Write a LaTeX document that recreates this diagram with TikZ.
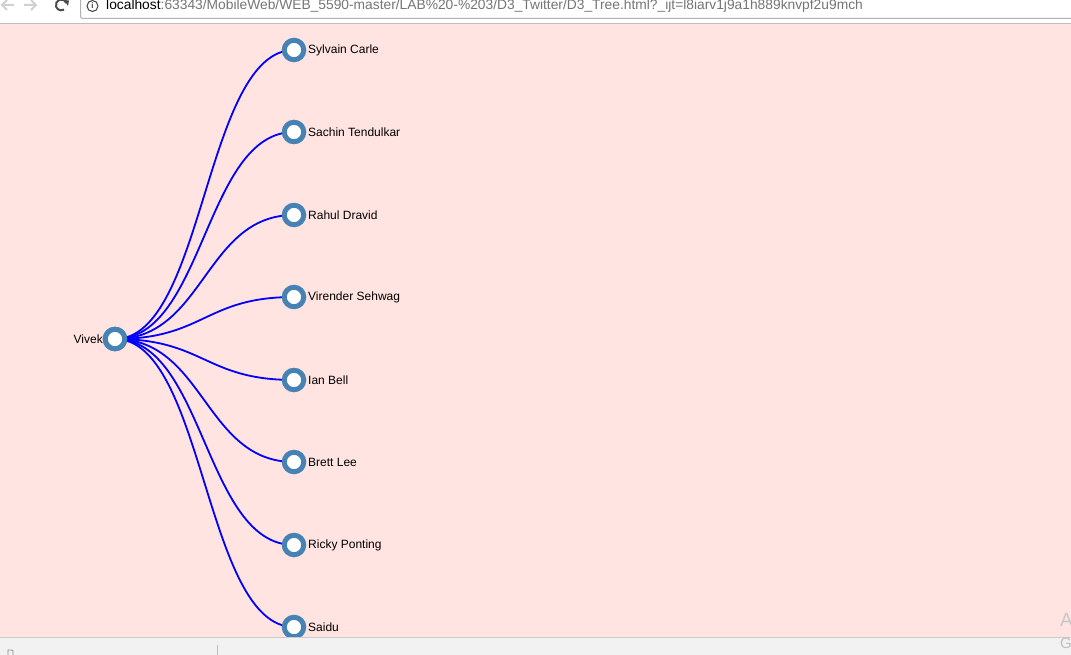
\documentclass[tikz,border=0pt]{standalone}
\usepackage{fontspec}
\setmainfont{Liberation Sans}
\newfontfamily\symfont{DejaVu Sans}
\usetikzlibrary{arrows.meta}
\definecolor{pinkbg}{HTML}{FFE4E1}
\definecolor{steel}{HTML}{4682B4}
\definecolor{barbg}{HTML}{F2F2F2}
\definecolor{urlgrey}{HTML}{757575}
\begin{document}
\begin{tikzpicture}[x=1pt,y=-1pt,
  treenode/.style={circle,draw=steel,line width=5pt,fill=white,minimum size=19.5pt,inner sep=0pt},
  link/.style={draw=blue,line width=1.8pt},
  lbl/.style={font=\fontsize{12}{12}\selectfont,inner sep=0pt},
  urltext/.style={font=\fontsize{13.8}{14}\selectfont,inner sep=0pt,anchor=west}]
\useasboundingbox (0,0) rectangle (1071,655);
% browser top bar
\fill[white] (0,0) rectangle (1071,23);
\fill[pinkbg] (0,23) rectangle (1071,637);
\draw[black!25,line width=1pt] (0,23.5) -- (1071,23.5);
\draw[black!30,line width=1pt,rounded corners=2pt] (80.5,-5) -- (80.5,18.5) -- (1080,18.5);
\draw[black!18,line width=2pt] (14,5) -- (2,5) (7,0) -- (2,5) -- (7,10);
\draw[black!18,line width=2pt] (24,5) -- (36,5) (31,0) -- (36,5) -- (31,10);
\draw[black!70,line width=2pt] (66.5,3) arc[start angle=20,end angle=300,radius=5.5pt];
\fill[black!70] (64,0) -- (69,0.5) -- (68,6) -- cycle;
\node[circle,draw=black!75,line width=1pt,minimum size=11pt,inner sep=0pt,font=\fontsize{8}{8}\selectfont\bfseries,text=black!75] (info) at (92.5,6) {i};
\node[urltext] (url) at (106,6) {localhost\textcolor{urlgrey}{:63343/MobileWeb/WEB\_5590-master/LAB\%20-\%203/D3\_Twitter/D3\_Tree.html?\_ijt=l8iarv1j9a1h889knvpf2u9mch}};
% tree
\node[treenode] (root) at (115,339) {};
\node[lbl,anchor=east] (rootlbl) at (103,339) {Vivek};
\foreach \y in {50,132,215,297,380,462,545,627}{
  \path[link] (root.center) .. controls (204.5,339) and (204.5,\y) .. (294,\y);
}
\foreach \n/\y/\t in {c1/50/Sylvain Carle,c2/132/Sachin Tendulkar,c3/215/Rahul Dravid,c4/297/Virender Sehwag,c5/380/Ian Bell,c6/462/Brett Lee,c7/545/Ricky Ponting,c8/627/Saidu}{
  \node[treenode] (\n) at (294,\y) {};
  \node[lbl,anchor=west] (\n l) at (308,\y) {\t};
}
\node[treenode] (root2) at (root) {};
% bottom bar
\fill[barbg] (0,637) rectangle (1071,655);
\draw[black!20,line width=1pt] (0,637.5) -- (1071,637.5);
\draw[black!25,line width=1pt] (217.5,645) -- (217.5,655);
\draw[black!45,line width=0.8pt] (8,655) -- (8,650) -- (12,650) -- (13,651) -- (13,655);
\node[font=\fontsize{19}{19}\selectfont,text=black!22,inner sep=0pt,anchor=west] (wa) at (1060,620) {A};
\node[font=\fontsize{15}{15}\selectfont,text=black!25,inner sep=0pt,anchor=west] (wg) at (1060,643) {G};
\end{tikzpicture}
\end{document}
